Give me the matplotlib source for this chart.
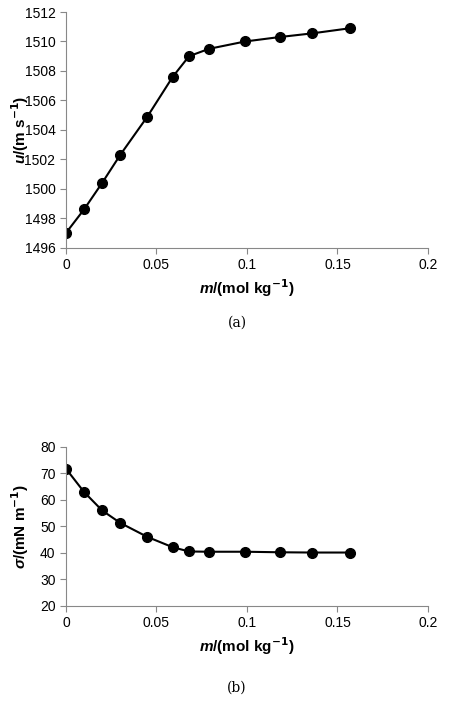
import matplotlib.pyplot as plt

plt.rcParams['font.family'] = ['Liberation Sans', 'DejaVu Sans']
plt.rcParams['mathtext.fontset'] = 'custom'
plt.rcParams['mathtext.bfit'] = 'Liberation Sans:italic:bold'

m = [0, 0.01, 0.02, 0.03, 0.045, 0.059, 0.068, 0.079, 0.099, 0.118, 0.136, 0.157]
u = [1497.0, 1498.6, 1500.4, 1502.3, 1504.9, 1507.6, 1509.0, 1509.5, 1510.0, 1510.3, 1510.55, 1510.9]
sigma = [71.8, 63.0, 56.0, 51.3, 46.0, 42.1, 40.5, 40.4, 40.4, 40.2, 40.1, 40.1]

fig = plt.figure(figsize=(4.74, 7.06), dpi=100)
ax1 = fig.add_axes([0.139, 0.649, 0.764, 0.334])
ax2 = fig.add_axes([0.139, 0.142, 0.764, 0.225])

def style(ax):
    ax.set_xlim(0, 0.2)
    ax.set_xticks([0, 0.05, 0.1, 0.15, 0.2])
    ax.set_xticklabels(['0', '0.05', '0.1', '0.15', '0.2'])
    for s in ['top', 'right']:
        ax.spines[s].set_visible(False)
    for s in ['left', 'bottom']:
        ax.spines[s].set_color('#888888')
    ax.tick_params(labelsize=10, color='#888888', direction='out', length=4)
    ax.set_xlabel(r'$\mathbfit{m}$/(mol kg$^{\mathbf{-1}}$)', fontsize=11, fontweight='bold')
    ax.yaxis.set_label_coords(-0.095, 0.5)

ax1.plot(m, u, color='black', marker='o', markersize=7, linewidth=1.5)
ax1.set_ylim(1496, 1512)
ax1.set_yticks(range(1496, 1513, 2))
style(ax1)
ax1.set_ylabel(r'$\mathbfit{u}$/(m s$^{\mathbf{-1}}$)', fontsize=11, fontweight='bold')

ax2.plot(m, sigma, color='black', marker='o', markersize=7, linewidth=1.5)
ax2.set_ylim(20, 80)
ax2.set_yticks(range(20, 81, 10))
style(ax2)
ax2.set_ylabel(r'$\mathbfit{\sigma}$/(mN m$^{\mathbf{-1}}$)', fontsize=11, fontweight='bold')

fig.text(0.5, 1 - 323 / 706, '(a)', ha='center', va='center', fontsize=10, family='DejaVu Serif')
fig.text(0.5, 1 - 688 / 706, '(b)', ha='center', va='center', fontsize=10, family='DejaVu Serif')

fig.savefig('out.png', dpi=100)
